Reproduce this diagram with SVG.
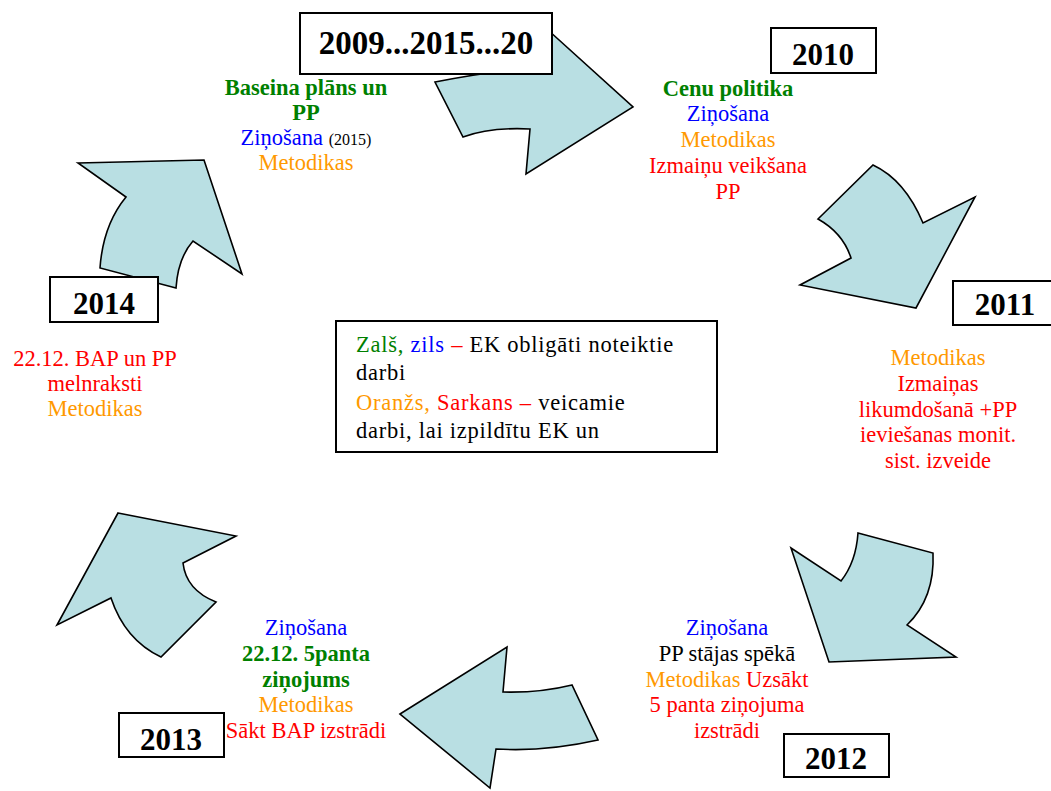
<svg xmlns="http://www.w3.org/2000/svg" width="1051" height="791" viewBox="0 0 1051 791">
<style>
.arr{fill:#b9dfe3;stroke:#000;stroke-width:1.6;stroke-linejoin:miter}
.box{fill:#fff;stroke:#000;stroke-width:2}
text{font-family:"Liberation Serif","DejaVu Serif",serif;font-weight:normal}
.yr{font-weight:bold;font-size:31px;fill:#000;text-anchor:middle}
.t{font-size:22.5px;text-anchor:middle}
.b{font-weight:bold}
.g{fill:#008000}.bl{fill:#0000ff}.o{fill:#ff9900}.r{fill:#ff0000}.k{fill:#000}
.lg{font-size:22.5px;letter-spacing:0.75px}
</style>
<rect width="1051" height="791" fill="#fff"/>
<g id="connectors">
<path class="arr" d="M435,82 Q485,72 532,68 L548,30 L633,107 L526,174 L530,129 Q490,127 463,137 Z"/>
<path class="arr" d="M873,165 Q905,180 923,223 L975,197 L916,308 L800,285 L851,258 Q843,233 818,219 Z"/>
<path class="arr" d="M858,533 L933,553 Q935,598 907,625 L956,657 L829,662 L791,548 L841,581 Q856,562 858,533 Z"/>
<path class="arr" d="M400,714 L507,647 L503,692 Q540,693 572,685 L598,740 Q545,752 496,749 L490,788 Z"/>
<path class="arr" d="M118,513 L236,536 L183,563 Q186,590 216,602 L161,657 Q125,640 111,598 L57,625 Z"/>
<path class="arr" d="M78,163 L204,160 L242,274 L193,241 Q178,258 176,288 L100,268 Q103,225 126,197 Z"/>
</g>
<g id="node-top">
<rect class="box" x="300" y="13" width="252" height="61"/>
<text class="yr" x="426" y="54" style="font-size:33px">2009...2015...20</text>
</g>
<g id="node-2010">
<rect class="box" x="771" y="28" width="105" height="45"/>
<text class="yr" x="823" y="65">2010</text>
</g>
<g id="node-2011">
<rect class="box" x="953" y="281" width="100" height="44"/>
<text class="yr" x="1005" y="315">2011</text>
</g>
<g id="node-2012">
<rect class="box" x="784" y="734" width="105" height="43"/>
<text class="yr" x="836" y="769">2012</text>
</g>
<g id="node-2013">
<rect class="box" x="119" y="713" width="105" height="44"/>
<text class="yr" x="171" y="750">2013</text>
</g>
<g id="node-2014">
<rect class="box" x="50" y="277" width="108" height="45"/>
<text class="yr" x="104" y="314">2014</text>
</g>
<g id="text-2009">
<text class="t b g" x="306" y="95">Baseina plāns un</text>
<text class="t b g" x="306" y="120">PP</text>
<text class="t" x="306" y="145"><tspan class="bl">Ziņošana</tspan> <tspan class="k" style="font-size:16px">(2015)</tspan></text>
<text class="t o" x="306" y="170">Metodikas</text>
</g>
<g id="text-2010">
<text class="t b g" x="728" y="96">Cenu politika</text>
<text class="t bl" x="728" y="121">Ziņošana</text>
<text class="t o" x="728" y="147">Metodikas</text>
<text class="t r" x="728" y="173">Izmaiņu veikšana</text>
<text class="t r" x="728" y="199">PP</text>
</g>
<g id="text-2011">
<text class="t o" x="938" y="365">Metodikas</text>
<text class="t r" x="938" y="391">Izmaiņas</text>
<text class="t r" x="938" y="417">likumdošanā +PP</text>
<text class="t r" x="938" y="442">ieviešanas monit.</text>
<text class="t r" x="938" y="468">sist. izveide</text>
</g>
<g id="text-2012">
<text class="t bl" x="727" y="635">Ziņošana</text>
<text class="t k" x="727" y="661">PP stājas spēkā</text>
<text class="t" x="727" y="687"><tspan class="o">Metodikas</tspan> <tspan class="r">Uzsākt</tspan></text>
<text class="t r" x="727" y="712">5 panta ziņojuma</text>
<text class="t r" x="727" y="738">izstrādi</text>
</g>
<g id="text-2013">
<text class="t bl" x="306" y="635">Ziņošana</text>
<text class="t b g" x="306" y="661">22.12. 5panta</text>
<text class="t b g" x="306" y="687">ziņojums</text>
<text class="t o" x="306" y="712">Metodikas</text>
<text class="t r" x="306" y="738">Sākt BAP izstrādi</text>
</g>
<g id="text-2014">
<text class="t r" x="95" y="366">22.12. BAP un PP</text>
<text class="t r" x="95" y="391">melnraksti</text>
<text class="t o" x="95" y="416">Metodikas</text>
</g>
<g id="legend">
<rect class="box" x="336" y="321" width="381" height="131"/>
<text class="lg" x="356" y="352"><tspan class="g">Zalš,</tspan> <tspan class="bl">zils</tspan> <tspan class="r">–</tspan> <tspan class="k">EK obligāti noteiktie</tspan></text>
<text class="lg k" x="356" y="380">darbi</text>
<text class="lg" x="356" y="410"><tspan class="o">Oranžs,</tspan> <tspan class="r">Sarkans –</tspan> <tspan class="k">veicamie</tspan></text>
<text class="lg k" x="356" y="438">darbi, lai izpildītu EK un</text>
</g>
</svg>
